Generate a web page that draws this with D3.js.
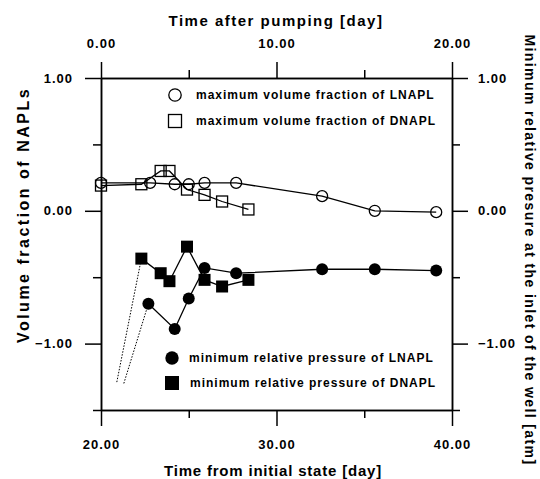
<!DOCTYPE html>
<html>
<head>
<meta charset="utf-8">
<script src="https://cdn.jsdelivr.net/npm/d3@7"></script>
<style>
  body { margin: 0; background: #fff; }
  svg { display: block; font-family: Arial, "Liberation Sans", sans-serif; font-weight: bold; }
</style>
</head>
<body>
<div id="chart"></div>
<script>
// values
const lnaplVolDays = [20.0, 22.8, 24.2, 25.0, 25.9, 27.7, 32.6, 35.6, 39.1];
const lnaplVolume  = [0.21, 0.21, 0.20, 0.20, 0.21, 0.21, 0.11, 0.00, -0.01];
const dnaplVolDays = [20.0, 22.3, 23.4, 23.9, 24.9, 25.9, 26.9, 28.4];
const dnaplVolume  = [0.19, 0.20, 0.30, 0.30, 0.16, 0.12, 0.07, 0.01];
const lnaplPresDays = [22.7, 24.2, 25.0, 25.9, 27.7, 32.6, 35.6, 39.1];
const lnaplPressure = [-0.70, -0.89, -0.66, -0.43, -0.47, -0.44, -0.44, -0.45];
const dnaplPresDays = [22.3, 23.4, 23.9, 24.9, 25.9, 26.9, 28.4];
const dnaplPressure = [-0.36, -0.47, -0.53, -0.27, -0.52, -0.57, -0.52];
// dotted lead-in lines: start point (DNAPL, LNAPL) -> first pressure point
const leadDays = [20.9, 21.3];
const leadPressure = [-1.29, -1.30];

const bottomTicks = [20, 30, 40], bottomMinor = [25, 35];
const topTicks = [0, 10, 20], topMinor = [5, 15];
const yTicks = [1, 0, -1], yMinor = [0.5, -0.5, -1.5];

const legendLabels = [
  'maximum volume fraction of LNAPL',
  'maximum volume fraction of DNAPL',
  'minimum relative pressure of LNAPL',
  'minimum relative pressure of DNAPL'
];

// svg area
const width = 540;
const height = 479;

// plot box
const boxLeft = 101;
const boxRight = 452;
const boxTop = 78;
const boxBottom = 410;

const svg = d3.select('#chart').append('svg')
  .attr('width', width)
  .attr('height', height);

const x = d3.scaleLinear().domain([20, 40]).range([boxLeft, boxRight]);
const xTop = d3.scaleLinear().domain([0, 20]).range([boxLeft, boxRight]);
const y = d3.scaleLinear().domain([-1.5, 1]).range([boxBottom, boxTop]);
const yRight = d3.scaleLinear().domain([-1.5, 1]).range([boxBottom, boxTop]);

const fmt = d3.format('.2f');

// draw one axis (major + minor ticks) and tidy up d3's defaults
function drawAxis(maker, scale, major, minor, pad, transform) {
  const gMinor = svg.append('g').attr('transform', transform)
    .call(maker(scale).tickValues(minor).tickSize(8).tickSizeOuter(0).tickFormat(''));
  const gMajor = svg.append('g').attr('transform', transform)
    .call(maker(scale).tickValues(major).tickSize(16).tickSizeOuter(0)
      .tickPadding(pad).tickFormat(fmt));
  [gMinor, gMajor].forEach(g => {
    g.attr('font-family', null).attr('font-size', null);
    g.selectAll('path, line').attr('stroke', '#000').attr('stroke-width', 1.5);
  });
  gMajor.selectAll('text')
    .attr('fill', '#000')
    .style('font-size', '13px')
    .style('letter-spacing', '1px');
  return gMajor;
}

drawAxis(d3.axisBottom, x, bottomTicks, bottomMinor, 14, `translate(0, ${boxBottom})`);
drawAxis(d3.axisTop, xTop, topTicks, topMinor, 14, `translate(0, ${boxTop})`);
drawAxis(d3.axisLeft, y, yTicks, yMinor, 12, `translate(${boxLeft}, 0)`);
drawAxis(d3.axisRight, yRight, yTicks, yMinor, 10, `translate(${boxRight}, 0)`);

// axis titles
svg.append('text')
  .attr('x', 276).attr('y', 26)
  .attr('text-anchor', 'middle')
  .style('font-size', '15px').style('letter-spacing', '1.5px')
  .text('Time after pumping [day]');

svg.append('text')
  .attr('x', 273).attr('y', 476)
  .attr('text-anchor', 'middle')
  .style('font-size', '15px').style('letter-spacing', '0.8px')
  .text('Time from initial state [day]');

svg.append('text')
  .attr('transform', 'translate(23, 215) rotate(-90)')
  .attr('text-anchor', 'middle').attr('dy', '0.36em')
  .style('font-size', '16px').style('letter-spacing', '2.5px')
  .text('Volume fraction of NAPLs');

svg.append('text')
  .attr('transform', 'translate(530, 250) rotate(90)')
  .attr('text-anchor', 'middle').attr('dy', '0.36em')
  .style('font-size', '14px').style('letter-spacing', '1.4px')
  .text('Minimum relative presure at the inlet of the well [atm]');

// series
const zip = (xs, ys) => xs.map((d, i) => [d, ys[i]]);
const volL = zip(lnaplVolDays, lnaplVolume);
const volD = zip(dnaplVolDays, dnaplVolume);
const presL = zip(lnaplPresDays, lnaplPressure);
const presD = zip(dnaplPresDays, dnaplPressure);

const lineL = d3.line().x(d => x(d[0])).y(d => y(d[1]));
const lineR = d3.line().x(d => x(d[0])).y(d => yRight(d[1]));

// dotted lead-in lines
[presD[0], presL[0]].forEach((p, i) => {
  svg.append('path')
    .attr('d', lineR([[leadDays[i], leadPressure[i]], p]))
    .attr('fill', 'none').attr('stroke', '#000')
    .attr('stroke-width', 1).attr('stroke-dasharray', '1.5,1.5');
});

[[volL, lineL], [volD, lineL], [presL, lineR], [presD, lineR]].forEach(([pts, ln]) => {
  svg.append('path')
    .attr('d', ln(pts))
    .attr('fill', 'none').attr('stroke', '#000').attr('stroke-width', 1.3);
});

svg.selectAll('.vol-l').data(volL).enter().append('circle')
  .attr('class', 'vol-l')
  .attr('cx', d => x(d[0])).attr('cy', d => y(d[1])).attr('r', 5.5)
  .attr('fill', 'none').attr('stroke', '#000').attr('stroke-width', 1.3);

svg.selectAll('.vol-d').data(volD).enter().append('rect')
  .attr('class', 'vol-d')
  .attr('x', d => x(d[0]) - 5.5).attr('y', d => y(d[1]) - 5.5)
  .attr('width', 11).attr('height', 11)
  .attr('fill', 'none').attr('stroke', '#000').attr('stroke-width', 1.3);

svg.selectAll('.pres-l').data(presL).enter().append('circle')
  .attr('class', 'pres-l')
  .attr('cx', d => x(d[0])).attr('cy', d => yRight(d[1])).attr('r', 6)
  .attr('fill', '#000');

svg.selectAll('.pres-d').data(presD).enter().append('rect')
  .attr('class', 'pres-d')
  .attr('x', d => x(d[0]) - 6).attr('y', d => yRight(d[1]) - 6)
  .attr('width', 12).attr('height', 12)
  .attr('fill', '#000');

// legends
const legendPos = [
  { mx: 175, tx: 196, y: 95 },
  { mx: 175, tx: 196, y: 121 },
  { mx: 172, tx: 189, y: 358 },
  { mx: 172, tx: 190, y: 383 }
];

legendPos.forEach((p, i) => {
  if (i === 0) {
    svg.append('circle').attr('cx', p.mx).attr('cy', p.y).attr('r', 6.2)
      .attr('fill', 'none').attr('stroke', '#000').attr('stroke-width', 1.3);
  } else if (i === 1) {
    svg.append('rect').attr('x', p.mx - 6.5).attr('y', p.y - 6.5)
      .attr('width', 13).attr('height', 13)
      .attr('fill', 'none').attr('stroke', '#000').attr('stroke-width', 1.3);
  } else if (i === 2) {
    svg.append('circle').attr('cx', p.mx).attr('cy', p.y).attr('r', 6.7).attr('fill', '#000');
  } else {
    svg.append('rect').attr('x', p.mx - 7).attr('y', p.y - 7)
      .attr('width', 14).attr('height', 14).attr('fill', '#000');
  }
  svg.append('text')
    .attr('x', p.tx).attr('y', p.y).attr('dy', '0.35em')
    .style('font-size', '12px').style('letter-spacing', '1px')
    .text(legendLabels[i]);
});
</script>
</body>
</html>
